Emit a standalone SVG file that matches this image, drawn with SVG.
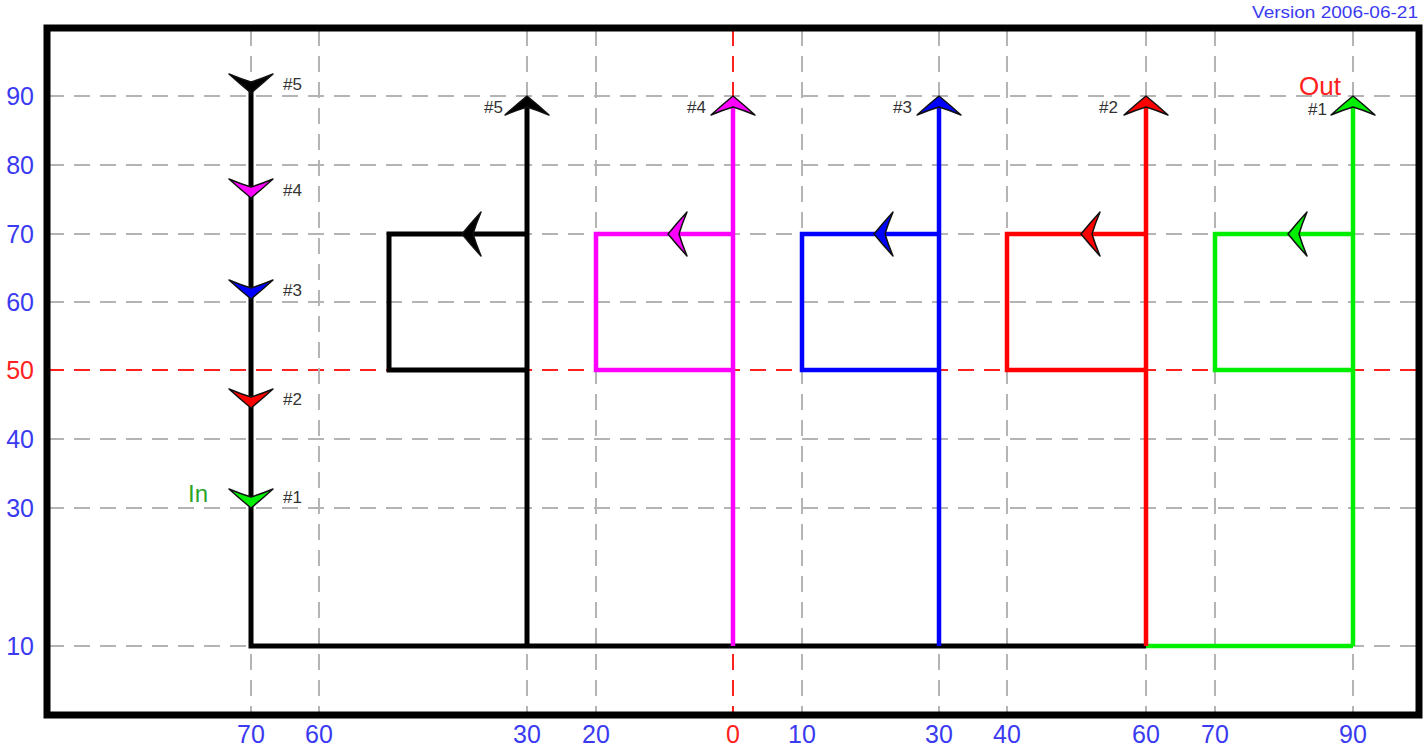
<svg xmlns="http://www.w3.org/2000/svg" xmlns:xlink="http://www.w3.org/1999/xlink" width="1424" height="748" viewBox="0 0 1424 748">
<style>
.grid{stroke:#b4b4b4;stroke-width:2;stroke-dasharray:16 10;fill:none}
.gridr{stroke:#ff2020;stroke-width:2;stroke-dasharray:16 10;fill:none}
.ax{font-family:"Liberation Sans",Arial,sans-serif;font-size:25px;fill:#3a3af0}
.axr{fill:#ff2020}
.lbl{font-family:"Liberation Sans",Arial,sans-serif;font-size:17px;fill:#333}
.k{stroke:#000;stroke-width:5;fill:none;stroke-linejoin:miter}
.m{stroke:#ff00ff;stroke-width:4.5;fill:none}
.b{stroke:#0000ff;stroke-width:4.5;fill:none}
.r{stroke:#ff0000;stroke-width:4.5;fill:none}
.g{stroke:#00ee00;stroke-width:4.5;fill:none}
.ah{stroke:#111;stroke-width:1.5;stroke-linejoin:round}
</style>
<defs>
<path id="up" d="M0,0 Q11,9 22,19 Q10,14 0,11 Q-10,14 -22,19 Q-11,9 0,0 Z"/>
</defs>
<rect width="1424" height="748" fill="#fff"/>
<g id="grid">
<path class="grid" d="M48,96H1416M48,165H1416M48,234H1416M48,302H1416M48,439H1416M48,508H1416M48,646H1416"/>
<path class="gridr" d="M48,370H1416"/>
<path class="grid" d="M251,30V713M319,30V713M527,30V713M596,30V713M802,30V713M939,30V713M1007,30V713M1146,30V713M1215,30V713M1353,30V713"/>
<path class="gridr" d="M733,30V713"/>
</g>
<rect id="frame" x="47" y="28" width="1372" height="687" fill="none" stroke="#000" stroke-width="7"/>
<g id="axis-labels">
<text class="ax" x="34" y="105" text-anchor="end">90</text>
<text class="ax" x="34" y="174" text-anchor="end">80</text>
<text class="ax" x="34" y="243" text-anchor="end">70</text>
<text class="ax" x="34" y="311" text-anchor="end">60</text>
<text class="ax axr" x="34" y="379" text-anchor="end">50</text>
<text class="ax" x="34" y="448" text-anchor="end">40</text>
<text class="ax" x="34" y="517" text-anchor="end">30</text>
<text class="ax" x="34" y="655" text-anchor="end">10</text>
<g text-anchor="middle">
<text class="ax" x="251" y="743">70</text>
<text class="ax" x="319" y="743">60</text>
<text class="ax" x="527" y="743">30</text>
<text class="ax" x="596" y="743">20</text>
<text class="ax axr" x="733" y="743">0</text>
<text class="ax" x="802" y="743">10</text>
<text class="ax" x="939" y="743">30</text>
<text class="ax" x="1007" y="743">40</text>
<text class="ax" x="1146" y="743">60</text>
<text class="ax" x="1215" y="743">70</text>
<text class="ax" x="1353" y="743">90</text>
</g>
<text x="1418" y="18" text-anchor="end" textLength="166" lengthAdjust="spacingAndGlyphs" style="font-family:'Liberation Sans',Arial,sans-serif;font-size:16px;fill:#3a3af0">Version 2006-06-21</text>
</g>
<g id="connectors">
<path class="k" d="M251,86V646H1146"/>
<path class="g" d="M1146,646H1353"/>
<path class="k" d="M527,646V104M527,370H389V234H527"/>
<path class="m" d="M733,646V104M733,370H596V234H733"/>
<path class="b" d="M939,646V104M939,370H802V234H939"/>
<path class="r" d="M1146,646V104M1146,370H1007V234H1146"/>
<path class="g" d="M1353,646V104M1353,370H1215V234H1353"/>
</g>
<g id="arrowheads">
<use xlink:href="#up" class="ah" fill="#000" transform="translate(251,93) rotate(180)"/>
<use xlink:href="#up" class="ah" fill="#ff00ff" transform="translate(251,198) rotate(180)"/>
<use xlink:href="#up" class="ah" fill="#0000ff" transform="translate(251,299) rotate(180)"/>
<use xlink:href="#up" class="ah" fill="#ff0000" transform="translate(251,408) rotate(180)"/>
<use xlink:href="#up" class="ah" fill="#00ee00" transform="translate(251,508) rotate(180)"/>
<use xlink:href="#up" class="ah" fill="#000" transform="translate(527,96)"/>
<use xlink:href="#up" class="ah" fill="#ff00ff" transform="translate(733,96)"/>
<use xlink:href="#up" class="ah" fill="#0000ff" transform="translate(939,96)"/>
<use xlink:href="#up" class="ah" fill="#ff0000" transform="translate(1146,96)"/>
<use xlink:href="#up" class="ah" fill="#00ee00" transform="translate(1353,96)"/>
<use xlink:href="#up" class="ah" fill="#000" transform="translate(462,234) rotate(-90)"/>
<use xlink:href="#up" class="ah" fill="#ff00ff" transform="translate(668,234) rotate(-90)"/>
<use xlink:href="#up" class="ah" fill="#0000ff" transform="translate(874,234) rotate(-90)"/>
<use xlink:href="#up" class="ah" fill="#ff0000" transform="translate(1081,234) rotate(-90)"/>
<use xlink:href="#up" class="ah" fill="#00ee00" transform="translate(1288,234) rotate(-90)"/>
</g>
<g id="labels">
<text class="lbl" x="283" y="90">#5</text>
<text class="lbl" x="283" y="196">#4</text>
<text class="lbl" x="283" y="296">#3</text>
<text class="lbl" x="283" y="405">#2</text>
<text class="lbl" x="283" y="503">#1</text>
<text class="lbl" x="503" y="113" text-anchor="end">#5</text>
<text class="lbl" x="706" y="113" text-anchor="end">#4</text>
<text class="lbl" x="912" y="113" text-anchor="end">#3</text>
<text class="lbl" x="1118" y="113" text-anchor="end">#2</text>
<text class="lbl" x="1327" y="115" text-anchor="end">#1</text>
<text x="1320" y="95" text-anchor="middle" style="font-family:'Liberation Sans',Arial,sans-serif;font-size:26px;fill:#ff2020">Out</text>
<text x="198" y="502" text-anchor="middle" style="font-family:'Liberation Sans',Arial,sans-serif;font-size:24px;fill:#2aa52a">In</text>
</g>
</svg>
